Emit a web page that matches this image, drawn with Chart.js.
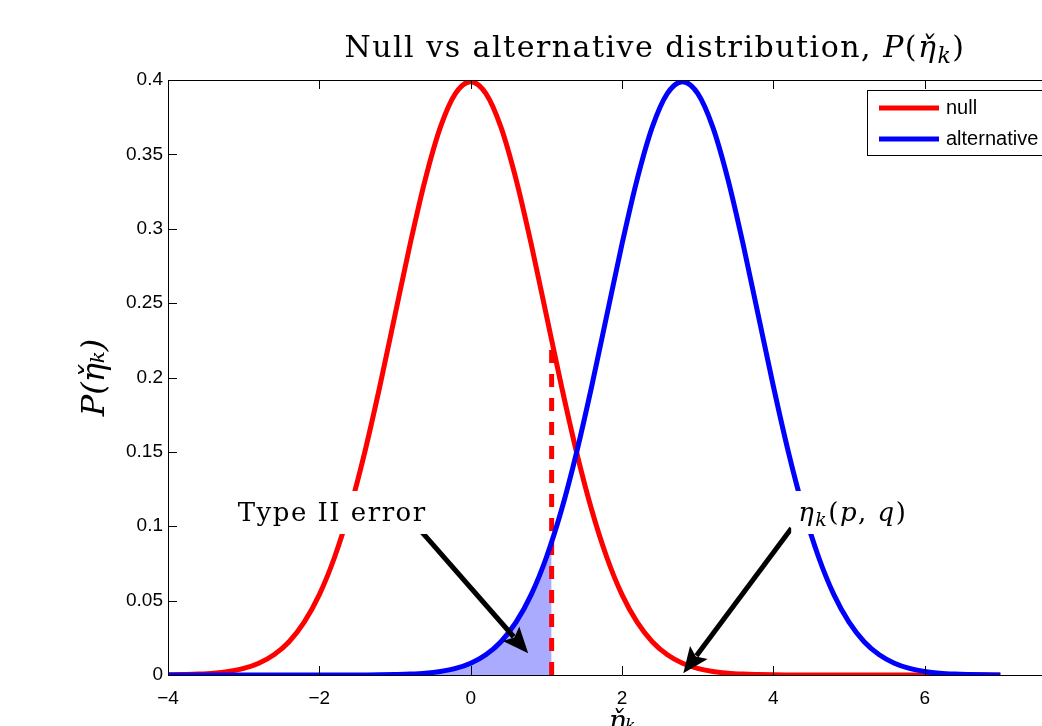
<!DOCTYPE html>
<html>
<head>
<meta charset="utf-8">
<script src="https://cdn.jsdelivr.net/npm/chart.js@4.4.1/dist/chart.umd.min.js"></script>
<style>
  html, body { margin: 0; padding: 0; background: #fff; overflow: hidden; width: 1042px; height: 726px; }
  #wrap { width: 1310px; height: 726px; }
</style>
</head>
<body>
<div id="wrap"><canvas id="chart" width="1310" height="726"></canvas></div>
<script>
// x grid of the curves (step 0.2)
const xs = [-4, -3.8, -3.6, -3.4, -3.2, -3, -2.8, -2.6, -2.4, -2.2, -2, -1.8, -1.6, -1.4, -1.2, -1, -0.8, -0.6, -0.4, -0.2,
  0, 0.2, 0.4, 0.6, 0.8, 1, 1.2, 1.4, 1.6, 1.8, 2, 2.2, 2.4, 2.6, 2.8, 3, 3.2, 3.4, 3.6, 3.8,
  4, 4.2, 4.4, 4.6, 4.8, 5, 5.2, 5.4, 5.6, 5.8, 6, 6.2, 6.4, 6.6, 6.8, 7];

// null distribution (red)
const nullPdf = [0.0001, 0.0003, 0.0006, 0.0012, 0.0024, 0.0044, 0.0079, 0.0136, 0.0224, 0.0355, 0.0540, 0.0790, 0.1109, 0.1497, 0.1942, 0.2420, 0.2897, 0.3332, 0.3683, 0.3910,
  0.3989, 0.3910, 0.3683, 0.3332, 0.2897, 0.2420, 0.1942, 0.1497, 0.1109, 0.0790, 0.0540, 0.0355, 0.0224, 0.0136, 0.0079, 0.0044, 0.0024, 0.0012, 0.0006, 0.0003,
  0.0001, 0, 0, 0, 0, 0, 0, 0, 0, 0, 0, 0, 0, 0, 0, 0];

// alternative distribution (blue)
const altPdf = [0, 0, 0, 0, 0, 0, 0, 0, 0, 0, 0, 0, 0, 0, 0.0001, 0.0003, 0.0006, 0.0012, 0.0024, 0.0044,
  0.0079, 0.0136, 0.0224, 0.0355, 0.0540, 0.0790, 0.1109, 0.1497, 0.1942, 0.2420, 0.2897, 0.3332, 0.3683, 0.3910, 0.3989, 0.3910, 0.3683, 0.3332, 0.2897, 0.2420,
  0.1942, 0.1497, 0.1109, 0.0790, 0.0540, 0.0355, 0.0224, 0.0136, 0.0079, 0.0044, 0.0024, 0.0012, 0.0006, 0.0003, 0.0001, 0];

// decision threshold and curve heights there
const threshold = 1.07;
const thresholdNull = 0.225;
const thresholdAlt = 0.089;

const seriesNames = ['null', 'alternative'];
const xTicks = [-4, -2, 0, 2, 4, 6, 8];
const yTicks = [0, 0.05, 0.1, 0.15, 0.2, 0.25, 0.3, 0.35, 0.4];

// title pieces: [text, style]
const titleParts = [['Null vs alternative distribution, ', 'roman'], ['P', 'italic'], ['(', 'roman'],
  ['\u03B7\u030C', 'italic'], ['k', 'sub'], [')', 'roman']];

// text labels with arrows (data coordinates)
const notes = [
  { parts: [['Type II error', 'roman']], tx: -1.83, ty: 0.1096, fromX: -0.67, fromY: 0.0975, toX: 0.76, toY: 0.0146 },
  { parts: [['\u03B7', 'italic'], ['k', 'sub'], ['(', 'roman'], ['p', 'italic'], [', ', 'roman'], ['q', 'italic'], [')', 'roman']],
    tx: 5.05, ty: 0.1096, fromX: 4.24, fromY: 0.0986, toX: 2.81, toY: 0.0011 }
];

const SERIF = '"DejaVu Serif", "Liberation Serif", serif';
const SANS = '"Liberation Sans", Arial, sans-serif';

const pts = (ys) => xs.map((x, i) => ({ x: x, y: ys[i] }));
const shadePts = xs.filter(x => x < threshold).map((x, i) => ({ x: x, y: altPdf[i] }));
shadePts.push({ x: threshold, y: thresholdAlt });

// inner tick marks + top frame line, like matlab axes
const frameTicks = {
  id: 'frameTicks',
  afterDatasetsDraw(chart) {
    const { ctx, chartArea: a, scales } = chart;
    const len = 9;
    ctx.save();
    ctx.strokeStyle = '#000';
    ctx.lineWidth = 1;
    ctx.beginPath();
    ctx.moveTo(a.left, a.top + 0.5); ctx.lineTo(a.right, a.top + 0.5);
    xTicks.forEach(v => {
      const px = Math.round(scales.x.getPixelForValue(v)) + 0.5;
      ctx.moveTo(px, a.bottom); ctx.lineTo(px, a.bottom - len);
      ctx.moveTo(px, a.top); ctx.lineTo(px, a.top + len);
    });
    yTicks.forEach(v => {
      const py = Math.round(scales.y.getPixelForValue(v)) + 0.5;
      ctx.moveTo(a.left, py); ctx.lineTo(a.left + len, py);
      ctx.moveTo(a.right, py); ctx.lineTo(a.right - len, py);
    });
    ctx.stroke();
    ctx.restore();
  }
};

// draw a run of mixed roman / italic / subscript text starting at x
function richText(ctx, parts, x, baseline, size, spacing, draw) {
  let w = 0;
  parts.forEach(p => {
    const sub = p[1] === 'sub';
    ctx.font = (p[1] === 'roman' ? '' : 'italic ') + Math.round(sub ? size * 0.72 : size) + 'px ' + SERIF;
    ctx.letterSpacing = spacing + 'px';
    if (draw) ctx.fillText(p[0], x + w, baseline + (sub ? size * 0.2 : 0));
    w += ctx.measureText(p[0]).width;
  });
  ctx.letterSpacing = '0px';
  return w;
}

const serifTitle = {
  id: 'serifTitle',
  afterDraw(chart) {
    const { ctx, chartArea: a } = chart;
    ctx.save();
    ctx.fillStyle = '#000';
    ctx.textBaseline = 'alphabetic';
    const w = richText(ctx, titleParts, 0, 0, 30, 1.5, false);
    const cx = (a.left + a.right) / 2 + 33;
    richText(ctx, titleParts, cx - w / 2, 57, 30, 1.5, true);
    ctx.restore();
  }
};

function drawArrow(ctx, x1, y1, x2, y2) {
  const ang = Math.atan2(y2 - y1, x2 - x1);
  const hl = 26, hw = 11;
  const c = Math.cos(ang), s = Math.sin(ang);
  const bx = x2 - hl * c, by = y2 - hl * s;
  ctx.strokeStyle = '#000';
  ctx.lineWidth = 5;
  ctx.beginPath();
  ctx.moveTo(x1, y1); ctx.lineTo(bx + 4 * c, by + 4 * s);
  ctx.stroke();
  ctx.fillStyle = '#000';
  ctx.beginPath();
  ctx.moveTo(x2, y2);
  ctx.lineTo(bx + hw * s, by - hw * c);
  ctx.lineTo(bx + 5 * c, by + 5 * s);
  ctx.lineTo(bx - hw * s, by + hw * c);
  ctx.closePath();
  ctx.fill();
}

const arrowNotes = {
  id: 'arrowNotes',
  afterDatasetsDraw(chart) {
    const { ctx, scales } = chart;
    ctx.save();
    notes.forEach(n => {
      drawArrow(ctx, scales.x.getPixelForValue(n.fromX), scales.y.getPixelForValue(n.fromY),
        scales.x.getPixelForValue(n.toX), scales.y.getPixelForValue(n.toY));
      const w = richText(ctx, n.parts, 0, 0, 26, 1.5, false);
      const cx = scales.x.getPixelForValue(n.tx), cy = scales.y.getPixelForValue(n.ty);
      ctx.fillStyle = '#fff';
      ctx.fillRect(cx - w / 2 - 7, cy - 21, w + 14, 43);
      ctx.fillStyle = '#000';
      ctx.textBaseline = 'alphabetic';
      richText(ctx, n.parts, cx - w / 2, cy + 9, 26, 1.5, true);
    });
    ctx.restore();
  }
};

// boxed legend inside the axes, top right
const boxLegend = {
  id: 'boxLegend',
  afterDraw(chart) {
    const { ctx, chartArea: a } = chart;
    const left = a.right - 209, top = a.top + 10, w = 199, h = 65;
    ctx.save();
    ctx.fillStyle = '#fff';
    ctx.fillRect(left, top, w, h);
    ctx.strokeStyle = '#000';
    ctx.lineWidth = 1;
    ctx.strokeRect(left + 0.5, top + 0.5, w, h);
    const items = chart.data.datasets.filter(d => seriesNames.includes(d.label));
    items.forEach((d, i) => {
      const y = top + 18 + i * 31;
      ctx.strokeStyle = d.borderColor;
      ctx.lineWidth = 5;
      ctx.beginPath(); ctx.moveTo(left + 12, y); ctx.lineTo(left + 72, y); ctx.stroke();
      ctx.fillStyle = '#000';
      ctx.font = '20px ' + SANS;
      ctx.textBaseline = 'middle';
      ctx.fillText(d.label, left + 79, y);
    });
    ctx.restore();
  }
};

new Chart(document.getElementById('chart'), {
  type: 'line',
  data: {
    datasets: [
      { label: 'shade', data: shadePts, borderWidth: 0, borderColor: 'rgba(0,0,0,0)', backgroundColor: '#aaaaff',
        fill: 'origin', pointRadius: 0, cubicInterpolationMode: 'monotone', order: 4 },
      { label: 'threshold', data: [{ x: threshold, y: 0 }, { x: threshold, y: thresholdNull }], borderColor: '#ff0000',
        borderWidth: 5, borderDash: [13, 11], pointRadius: 0, fill: false, order: 3 },
      { label: seriesNames[0], data: pts(nullPdf), borderColor: '#ff0000', borderWidth: 5, pointRadius: 0,
        fill: false, cubicInterpolationMode: 'monotone', order: 2 },
      { label: seriesNames[1], data: pts(altPdf), borderColor: '#0000ff', borderWidth: 5, pointRadius: 0,
        fill: false, cubicInterpolationMode: 'monotone', order: 1 }
    ]
  },
  options: {
    responsive: false,
    animation: false,
    events: [],
    layout: { padding: { left: 0, right: 234, top: 80, bottom: 0 } },
    plugins: {
      legend: { display: false },
      tooltip: { enabled: false },
      title: { display: false }
    },
    scales: {
      x: {
        type: 'linear', min: -4, max: 8,
        afterBuildTicks: s => { s.ticks = xTicks.map(v => ({ value: v })); },
        afterFit: s => { s.height = 51; },
        grid: { display: false, drawTicks: false },
        border: { display: true, color: '#000', width: 1 },
        ticks: { color: '#000', font: { family: SANS, size: 19 }, padding: 12, maxRotation: 0,
          callback: v => String(v).replace('-', '\u2212') },
        title: { display: true, text: '\u03B7\u030C\u2096', color: '#000',
          font: { family: SERIF, size: 28, style: 'italic' }, padding: { top: 0, bottom: -14 } }
      },
      y: {
        min: 0, max: 0.4,
        afterBuildTicks: s => { s.ticks = yTicks.map(v => ({ value: v })); },
        afterFit: s => { s.width = 168; },
        grid: { display: false, drawTicks: false },
        border: { display: true, color: '#000', width: 1 },
        ticks: { color: '#000', font: { family: SANS, size: 19 }, padding: 5,
          callback: v => String(+v.toFixed(2)) },
        title: { display: true, text: 'P(\u03B7\u030C\u2096)', color: '#000',
          font: { family: SERIF, size: 32, style: 'italic' }, padding: { top: 76, bottom: 0 } }
      }
    }
  },
  plugins: [frameTicks, arrowNotes, boxLegend, serifTitle]
});
</script>
</body>
</html>
